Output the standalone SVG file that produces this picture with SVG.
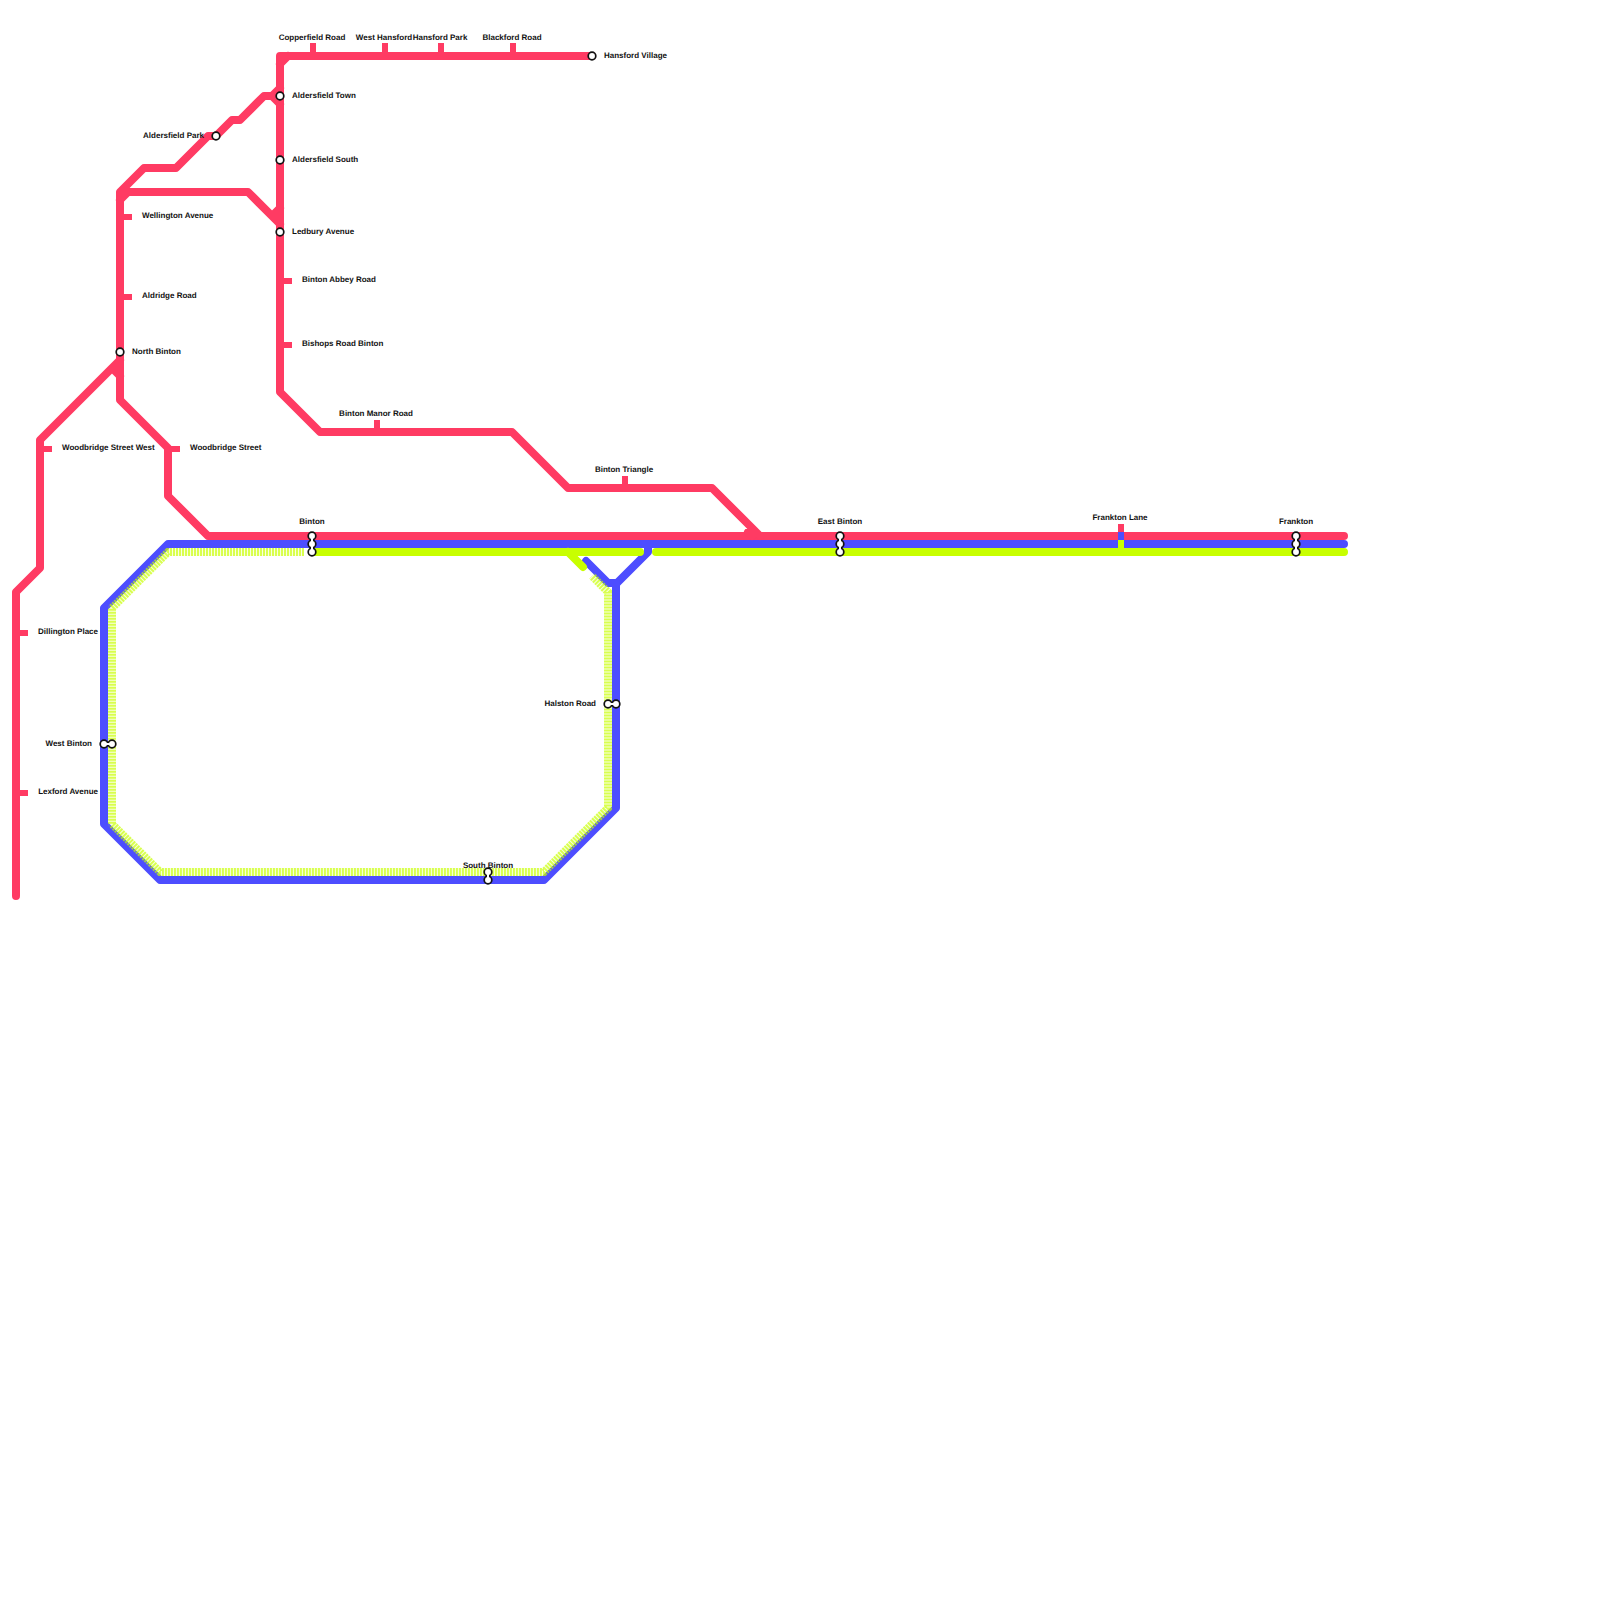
<svg xmlns="http://www.w3.org/2000/svg" width="1600" height="1600" viewBox="0 0 1600 1600">
<style>
text{font-family:"Liberation Sans",Arial,sans-serif;font-size:8px;font-weight:700;fill:#111;text-rendering:geometricPrecision}
.m{text-anchor:middle}.e{text-anchor:end}
.l{fill:none;stroke-width:8;stroke-linecap:round;stroke-linejoin:round}
.r{stroke:#ff3b63}.b{stroke:#4d4dff}.g{stroke:#c8ff00}
.u{fill:none;stroke:#c8ff00;stroke-width:8;stroke-opacity:.12}
.p{fill:none;stroke:#c8ff00;stroke-width:8;stroke-dasharray:2 1;stroke-opacity:.65}
.s{fill:none;stroke-width:6}
.st{fill:#fff;stroke:#111;stroke-width:1.7}
.nk{fill:none;stroke:#111;stroke-width:4.5;stroke-linecap:round}
.nw{fill:none;stroke:#fff;stroke-width:2;stroke-linecap:round}
</style>
<rect width="1600" height="1600" fill="#fff"/>
<g id="connectors">
<path class="l b" d="M1344 544H168L104 608V824L160 880H544L616 808V584L648 552V544"/>
<path class="l b" d="M586 561L608 583H616"/>
<path class="u" d="M304 552H168L112 608V824L160 872H544L608 808V592L592 576"/>
<path class="p" d="M304 552H168L112 608V824L160 872H544L608 808V592L592 576"/>
<path class="l g" d="M312 552H640M656 552H1344M568 552L583 567"/>
<path class="l r" d="M16 896V592L40 568V440L120 360M120 352V400L168 448V496L208 536H1344M112 368L120 376"/>
<path class="l r" d="M120 352V192L144 168H176L208 136H216L232 120H240L264 96H272L280 88M272 96L280 104M124 188L128 192M120 200L128 192H248L280 224M272 216L280 208"/>
<path class="l r" d="M592 56H280V392L320 432H512L568 488H712L760 536M280 64L288 56M752 536L748 532"/>
</g>
<g id="copperfield-road"><path class="s r" d="M313 43V56"/><text class="m" x="312" y="39.500">Copperfield Road</text></g>
<g id="west-hansford"><path class="s r" d="M385 43V56"/><text class="m" x="384" y="39.500">West Hansford</text></g>
<g id="hansford-park"><path class="s r" d="M441 43V56"/><text class="m" x="440" y="39.500">Hansford Park</text></g>
<g id="blackford-road"><path class="s r" d="M513 43V56"/><text class="m" x="512" y="39.500">Blackford Road</text></g>
<g id="hansford-village"><circle class="st" cx="592" cy="56" r="3.800"/><text x="604" y="58">Hansford Village</text></g>
<g id="aldersfield-town"><circle class="st" cx="280" cy="96" r="3.800"/><text x="292" y="98">Aldersfield Town</text></g>
<g id="aldersfield-south"><circle class="st" cx="280" cy="160" r="3.800"/><text x="292" y="162">Aldersfield South</text></g>
<g id="ledbury-avenue"><circle class="st" cx="280" cy="232" r="3.800"/><text x="292" y="234">Ledbury Avenue</text></g>
<g id="binton-abbey-road"><path class="s r" d="M280 281H292"/><text x="302" y="282">Binton Abbey Road</text></g>
<g id="bishops-road-binton"><path class="s r" d="M280 345H292"/><text x="302" y="346">Bishops Road Binton</text></g>
<g id="aldersfield-park"><circle class="st" cx="216" cy="136" r="3.800"/><text class="e" x="204" y="138">Aldersfield Park</text></g>
<g id="wellington-avenue"><path class="s r" d="M120 217H132"/><text x="142" y="218">Wellington Avenue</text></g>
<g id="aldridge-road"><path class="s r" d="M120 297H132"/><text x="142" y="298">Aldridge Road</text></g>
<g id="north-binton"><circle class="st" cx="120" cy="352" r="3.800"/><text x="132" y="354">North Binton</text></g>
<g id="binton-manor-road"><path class="s r" d="M377 420V432"/><text class="m" x="376" y="416">Binton Manor Road</text></g>
<g id="binton-triangle"><path class="s r" d="M625 476V488"/><text class="m" x="624" y="472">Binton Triangle</text></g>
<g id="woodbridge-street-west"><path class="s r" d="M40 449H52"/><text x="62" y="450">Woodbridge Street West</text></g>
<g id="woodbridge-street"><path class="s r" d="M168 449H180"/><text x="190" y="450">Woodbridge Street</text></g>
<g id="dillington-place"><path class="s r" d="M16 633H28"/><text class="e" x="98" y="634">Dillington Place</text></g>
<g id="lexford-avenue"><path class="s r" d="M16 793H28"/><text class="e" x="98" y="794">Lexford Avenue</text></g>
<g id="binton"><path class="nk" d="M312 536V552"/><circle class="st" cx="312" cy="536" r="3.800"/><circle class="st" cx="312" cy="544" r="3.800"/><circle class="st" cx="312" cy="552" r="3.800"/><path class="nw" d="M312 536V552"/><text class="m" x="312" y="524">Binton</text></g>
<g id="east-binton"><path class="nk" d="M840 536V552"/><circle class="st" cx="840" cy="536" r="3.800"/><circle class="st" cx="840" cy="544" r="3.800"/><circle class="st" cx="840" cy="552" r="3.800"/><path class="nw" d="M840 536V552"/><text class="m" x="840" y="524">East Binton</text></g>
<g id="frankton-lane"><path class="s r" d="M1121 524V536"/><path class="s b" d="M1121 532V544"/><path class="s g" d="M1121 540V556"/><text class="m" x="1120" y="520">Frankton Lane</text></g>
<g id="frankton"><path class="nk" d="M1296 536V552"/><circle class="st" cx="1296" cy="536" r="3.800"/><circle class="st" cx="1296" cy="544" r="3.800"/><circle class="st" cx="1296" cy="552" r="3.800"/><path class="nw" d="M1296 536V552"/><text class="m" x="1296" y="524">Frankton</text></g>
<g id="west-binton"><path class="nk" d="M104 744H112"/><circle class="st" cx="104" cy="744" r="3.800"/><circle class="st" cx="112" cy="744" r="3.800"/><path class="nw" d="M104 744H112"/><text class="e" x="92" y="746">West Binton</text></g>
<g id="halston-road"><path class="nk" d="M608 704H616"/><circle class="st" cx="608" cy="704" r="3.800"/><circle class="st" cx="616" cy="704" r="3.800"/><path class="nw" d="M608 704H616"/><text class="e" x="596" y="706">Halston Road</text></g>
<g id="south-binton"><text class="m" x="488" y="868">South Binton</text><path class="nk" d="M488 872V880"/><circle class="st" cx="488" cy="872" r="3.800"/><circle class="st" cx="488" cy="880" r="3.800"/><path class="nw" d="M488 872V880"/></g>
</svg>
